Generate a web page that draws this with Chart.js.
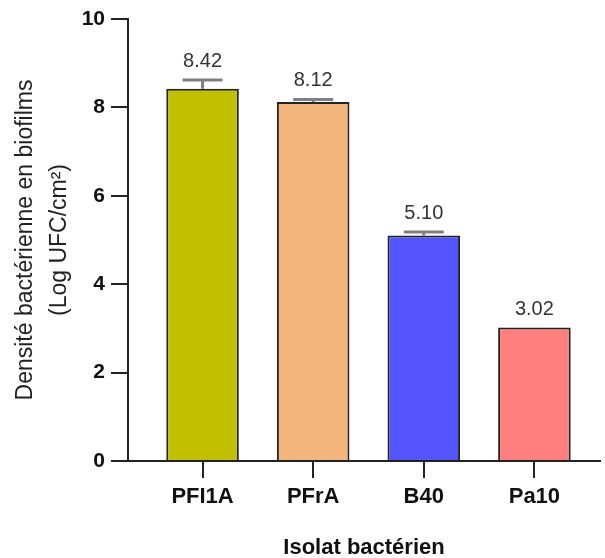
<!DOCTYPE html>
<html>
<head>
<meta charset="utf-8">
<script src="https://cdn.jsdelivr.net/npm/chart.js@4.4.0/dist/chart.umd.min.js"></script>
<style>
  html, body { margin: 0; padding: 0; background: #fff; }
</style>
</head>
<body>
<canvas id="chart" width="605" height="558"></canvas>
<script>
// Data
const isolats = ["PFI1A", "PFrA", "B40", "Pa10"];
const densite = [8.42, 8.12, 5.10, 3.02];
const erreurs = [0.20, 0.06, 0.08, 0];
const couleurs = ["#C0C000", "#F2B67C", "#5555FF", "#FF7F7F"];
const yTicks = [0, 2, 4, 6, 8, 10];

const FONT = "'Liberation Sans', Arial, sans-serif";
const AXIS_COLOR = "#222";

/** Error bars + value labels on top of each bar */
const errorBarPlugin = {
  id: "errorBars",
  afterDatasetsDraw(chart) {
    const { ctx, scales } = chart;
    ctx.save();
    densite.forEach((v, i) => {
      const x = scales.x.getPixelForValue(i);
      const yTop = scales.y.getPixelForValue(v);
      const yErr = scales.y.getPixelForValue(v + erreurs[i]);
      if (erreurs[i] > 0) {
        ctx.strokeStyle = "#808080";
        ctx.lineWidth = 3;
        ctx.beginPath();
        ctx.moveTo(x, yTop);
        ctx.lineTo(x, yErr);
        ctx.moveTo(x - 20, yErr);
        ctx.lineTo(x + 20, yErr);
        ctx.stroke();
      }
      // value label
      ctx.fillStyle = "#333";
      ctx.font = `20px ${FONT}`;
      ctx.textAlign = "center";
      ctx.textBaseline = "alphabetic";
      ctx.fillText(v.toFixed(2), x, yErr - 13);
    });
    ctx.restore();
  },
};

new Chart(document.getElementById("chart"), {
  type: "bar",
  data: {
    datasets: [
      {
        data: densite.map((v, i) => ({ x: i, y: v })),
        backgroundColor: couleurs,
        borderColor: AXIS_COLOR,
        borderWidth: 2,
        barPercentage: 0.656,
        categoryPercentage: 1,
      },
    ],
  },
  options: {
    responsive: false,
    animation: false,
    layout: { padding: { top: 19, right: 5, bottom: 0, left: 0 } },
    plugins: {
      legend: { display: false },
      tooltip: { enabled: false },
    },
    scales: {
      x: {
        type: "linear",
        min: -0.674,
        max: 3.593,
        offset: false,
        afterBuildTicks: (scale) => {
          scale.ticks = isolats.map((_, i) => ({ value: i }));
        },
        afterFit: (scale) => {
          scale.height = 97;
        },
        ticks: {
          autoSkip: false,
          maxRotation: 0,
          padding: 6,
          color: "#111",
          font: { family: FONT, size: 22, weight: "bold" },
          callback: (v) => isolats[v],
        },
        grid: {
          display: true,
          offset: false,
          drawOnChartArea: false,
          drawTicks: true,
          tickLength: 17,
          color: AXIS_COLOR,
          lineWidth: 2,
        },
        border: { display: true, color: AXIS_COLOR, width: 2 },
        title: {
          display: true,
          text: "Isolat bactérien",
          color: "#111",
          font: { family: FONT, size: 22, weight: "bold", lineHeight: 1 },
          padding: { top: 0, bottom: -1 },
        },
      },
      y: {
        min: 0,
        max: 10,
        afterBuildTicks: (scale) => {
          scale.ticks = yTicks.map((v) => ({ value: v }));
        },
        afterFit: (scale) => {
          scale.width = 128;
        },
        ticks: {
          padding: 6,
          color: "#111",
          font: { family: FONT, size: 21, weight: "bold" },
        },
        grid: {
          display: true,
          drawOnChartArea: false,
          drawTicks: true,
          tickLength: 17,
          color: AXIS_COLOR,
          lineWidth: 2,
        },
        border: { display: true, color: AXIS_COLOR, width: 2 },
        title: {
          display: true,
          text: ["Densité bactérienne en biofilms", "(Log UFC/cm²)"],
          color: "#222",
          font: { family: FONT, size: 23, lineHeight: 1.5 },
          padding: { top: 8, bottom: 0 },
        },
      },
    },
  },
  plugins: [errorBarPlugin],
});
</script>
</body>
</html>
